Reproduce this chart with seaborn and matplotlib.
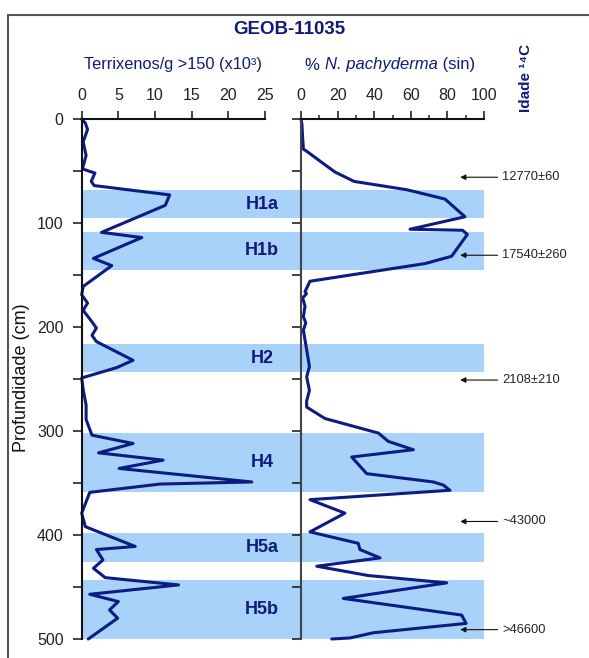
import matplotlib
matplotlib.use("Agg")
import matplotlib.pyplot as plt
from matplotlib.lines import Line2D
import seaborn as sns
import pandas as pd

# --- data -------------------------------------------------------------
terr_depth = [0, 4, 10, 22, 35, 48, 52, 60, 64, 73, 83, 109, 114, 134, 141,
              161, 169, 177, 184, 195, 201, 208, 214, 232, 239, 249, 260, 275,
              289, 304, 312, 321, 328, 336, 349, 351, 359, 379, 392, 411, 414,
              424, 432, 441, 448, 457, 464, 472, 480, 500]
terr_value = [0.0, 0.5, 0.8, 0.2, 0.6, 0.1, 1.8, 1.3, 1.7, 12.0, 11.4, 2.7, 8.2,
              1.6, 4.1, 0.2, 0.0, 0.8, 0.2, 1.4, 2.0, 1.4, 2.0, 7.0, 4.8, 0.0,
              0.2, 0.6, 0.6, 1.4, 7.0, 2.3, 11.1, 5.1, 23.2, 10.7, 1.1, 0.0,
              0.5, 7.3, 2.0, 2.9, 1.6, 3.2, 13.2, 1.1, 5.0, 3.8, 4.9, 0.9]

pachy_depth = [0, 5, 15, 29, 31, 44, 51, 60, 68, 77, 94, 106, 107, 111, 132,
               139, 156, 166, 168, 172, 180, 190, 196, 203, 222, 238, 248, 261,
               271, 277, 288, 302, 310, 318, 325, 341, 349, 352, 357, 366, 379,
               397, 408, 414, 422, 430, 439, 446, 461, 477, 485, 494, 499, 500]
pachy_value = [0.0, 0.5, 0.8, 1.3, 3.1, 13.1, 18.6, 29.0, 57.8, 78.7, 89.6, 59.6,
               88.3, 90.9, 82.3, 67.8, 4.9, 2.2, 3.0, 0.9, 2.2, 1.3, 2.6, 1.3,
               3.1, 4.6, 3.1, 4.6, 3.1, 3.1, 13.1, 42.3, 47.7, 61.4, 27.7, 35.9,
               72.3, 77.8, 81.4, 4.9, 24.0, 4.9, 31.3, 32.2, 43.2, 8.6, 36.8,
               79.6, 23.1, 87.8, 90.2, 39.5, 26.8, 16.8]

event_names = ["H1a", "H1b", "H2", "H4", "H5a", "H5b"]
event_top = [68, 108.7, 216.6, 301.6, 398.4, 443.3]
event_base = [95.5, 145, 243.6, 358.4, 425.6, 500]

age_depth = [56, 131, 251, 387, 491]
age_label = ["12770\u00b160", "17540\u00b1260", "2108\u00b1210", "~43000", ">46600"]

terr_ticks = [0, 5, 10, 15, 20, 25]
pachy_ticks = [0, 20, 40, 60, 80, 100]
depth_ticks = [0, 100, 200, 300, 400, 500]

# --- style ------------------------------------------------------------
sns.set_theme(style="white")
FAMILY = ["Liberation Sans", "DejaVu Sans"]
plt.rcParams["font.family"] = FAMILY
NAVY = "#101a78"
LINE = "#0c1c82"
BAND = "#a8d2fa"
TICKC = "#222222"

W, H = 589, 658
fig = plt.figure(figsize=(W / 100, H / 100), dpi=100)


def fx(px):
    return px / W


def fy(py):
    return 1 - py / H


TOP, BOT = 119, 639
L0, L1 = 81.7, 265
R0, R1 = 301, 484

# shaded event bands behind both panels
bg = fig.add_axes([fx(L0), fy(BOT), (R1 - L0) / W, (BOT - TOP) / H])
bg.set_xlim(0, 1)
bg.set_ylim(500, 0)
bg.axis("off")
for name, d0, d1 in zip(event_names, event_top, event_base):
    bg.axhspan(d0, d1, color=BAND, lw=0, zorder=0)
    bg.text((262 - L0) / (R1 - L0), (d0 + d1) / 2, name, ha="center",
            va="center", color=NAVY, fontsize=13, fontweight="bold")

axL = fig.add_axes([fx(L0), fy(BOT), (L1 - L0) / W, (BOT - TOP) / H])
axR = fig.add_axes([fx(R0), fy(BOT), (R1 - R0) / W, (BOT - TOP) / H])

terr_df = pd.DataFrame({"depth": terr_depth, "value": terr_value})
pachy_df = pd.DataFrame({"depth": pachy_depth, "value": pachy_value})
sns.lineplot(data=terr_df, x="value", y="depth", sort=False, estimator=None,
             ax=axL, color=LINE, lw=2.2, clip_on=False)
sns.lineplot(data=pachy_df, x="value", y="depth", sort=False, estimator=None,
             ax=axR, color=LINE, lw=2.2, clip_on=False)

for ax, xmax, ticks in [(axL, 25, terr_ticks), (axR, 100, pachy_ticks)]:
    ax.patch.set_alpha(0)
    ax.set_xlim(0, xmax)
    ax.set_ylim(500, 0)
    ax.set_xlabel("")
    ax.set_ylabel("")
    ax.xaxis.tick_top()
    ax.set_xticks(ticks)
    ax.set_yticks(depth_ticks)
    ax.set_yticks([50, 150, 250, 350, 450], minor=True)
    for s in ["right", "bottom"]:
        ax.spines[s].set_visible(False)
    for s in ["top", "left"]:
        ax.spines[s].set_color("#111111")
        ax.spines[s].set_linewidth(1.5)
    ax.tick_params(axis="x", which="major", direction="out", length=5.5,
                   width=1.1, pad=6, labelsize=11.5, colors="#111111",
                   labelcolor=TICKC, top=True, bottom=False)
    ax.tick_params(axis="y", which="both", direction="out", length=6.5,
                   width=1.1, pad=6.5, labelsize=11.5, colors="#111111",
                   labelcolor=TICKC, left=True, right=False)

axR.spines["left"].set_color("#444444")
axR.set_xticks([10, 30, 50, 70, 90], minor=True)
axR.tick_params(axis="x", which="minor", direction="out", length=3.2,
                width=1.1, top=True, bottom=False)
axR.tick_params(axis="y", labelleft=False)

# radiocarbon ages with arrows
for d, lab in zip(age_depth, age_label):
    axR.annotate(lab, xy=(87, d), xytext=(110, d), ha="left", va="center",
                 fontsize=9.3, color="#222222", annotation_clip=False,
                 arrowprops=dict(arrowstyle="-|>", color="#111111", lw=0.8,
                                 mutation_scale=8, shrinkA=1, shrinkB=0))

# titles and labels
fig.text(fx(289), fy(30), "GEOB-11035", ha="center", va="center",
         fontsize=13.5, fontweight="bold", color=NAVY)
fig.text(fx(173), fy(65), "Terrixenos/g >150 (x10\u00b3)", ha="center",
         va="center", fontsize=11.8, color=NAVY)

# mixed italic label for the second panel
renderer = fig.canvas.get_renderer()
pieces = [("% ", "normal"), ("N. pachyderma", "italic"), (" (sin)", "normal")]
widths = []
for txt, st in pieces:
    t = fig.text(0, 0, txt, fontsize=12, style=st)
    widths.append(t.get_window_extent(renderer).width)
    t.remove()
xpos = 390 - sum(widths) / 2
for (txt, st), w in zip(pieces, widths):
    fig.text(fx(xpos), fy(65), txt, ha="left", va="center", fontsize=12,
             style=st, color=NAVY)
    xpos += w

fig.text(fx(526), fy(78), "Idade \u00b9\u2074C", ha="center", va="center",
         rotation=90, fontsize=11, fontweight="bold", color=NAVY)
fig.text(fx(22), fy(378), "Profundidade (cm)", ha="center", va="center",
         rotation=90, fontsize=13, color="#111111")

# frame around the figure
fig.add_artist(Line2D([fx(8), fx(8)], [fy(14.5), 0], transform=fig.transFigure,
                      color="#555555", lw=1.5))
fig.add_artist(Line2D([fx(8), 1], [fy(14.5), fy(14.5)], transform=fig.transFigure,
                      color="#555555", lw=1.5))

fig.savefig("out.png", dpi=100)
